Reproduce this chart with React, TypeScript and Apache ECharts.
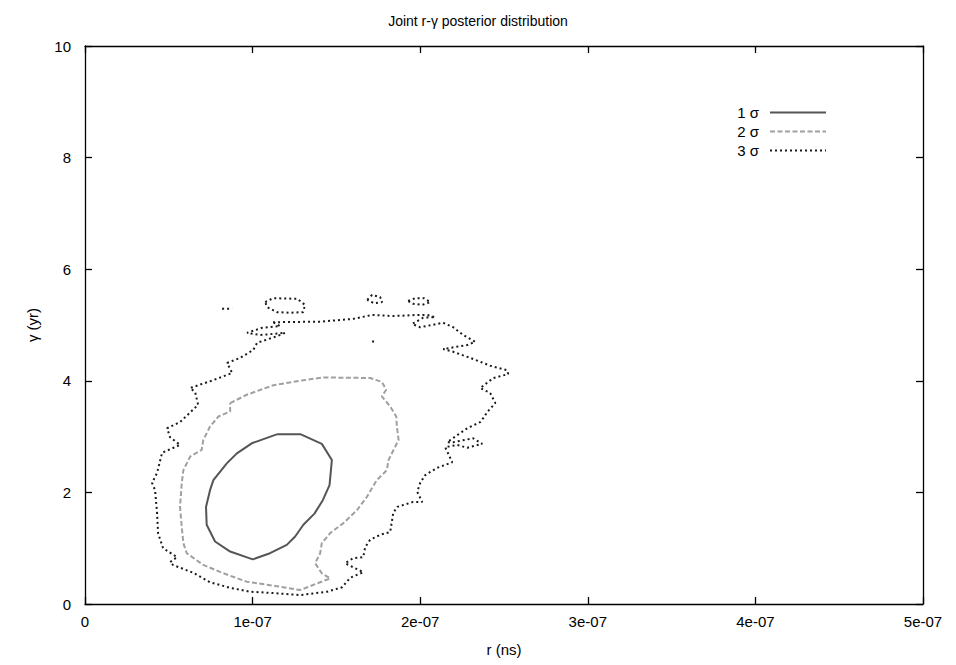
import React, { useEffect, useRef } from "react";
import * as echarts from "echarts";

// r values are in units of 1e-07 ns; gamma in years.
const xTicks = [0, 1, 2, 3, 4, 5];
const yTicks = [0, 2, 4, 6, 8, 10];

// 1-sigma contour
const sigma1R = [1.144, 1.288, 1.413, 1.473, 1.459, 1.419, 1.369, 1.303, 1.254, 1.204, 1.104, 1.001, 0.866, 0.776, 0.746, 0.726, 0.722, 0.746, 0.766, 0.846, 0.906, 0.995, 1.144];
const sigma1G = [3.04, 3.04, 2.87, 2.58, 2.13, 1.86, 1.62, 1.42, 1.21, 1.06, 0.91, 0.80, 0.94, 1.12, 1.30, 1.42, 1.74, 2.04, 2.22, 2.52, 2.70, 2.88, 3.04];

// 2-sigma contour
const sigma2R = [0.866, 0.965, 1.124, 1.303, 1.423, 1.701, 1.771, 1.797, 1.771, 1.821, 1.857, 1.861, 1.871, 1.841, 1.811, 1.801, 1.741, 1.711, 1.682, 1.622, 1.542, 1.463, 1.413, 1.403, 1.373, 1.413, 1.463, 1.284, 1.144, 0.965, 0.826, 0.706, 0.607, 0.587, 0.577, 0.567, 0.577, 0.587, 0.627, 0.696, 0.706, 0.746, 0.796, 0.866, 0.866];
const sigma2G = [3.60, 3.75, 3.92, 4.01, 4.06, 4.05, 3.98, 3.84, 3.72, 3.54, 3.36, 3.18, 2.94, 2.76, 2.58, 2.40, 2.22, 2.07, 1.92, 1.68, 1.45, 1.27, 1.09, 0.91, 0.73, 0.55, 0.46, 0.25, 0.32, 0.40, 0.55, 0.70, 0.91, 1.09, 1.39, 1.74, 2.16, 2.40, 2.64, 2.76, 2.94, 3.18, 3.36, 3.45, 3.60];

// 3-sigma contour: main outline
const sigma3R = [1.122, 1.403, 1.600, 1.713, 1.839, 1.982, 2.042, 2.090, 2.018, 1.952, 2.000, 2.137, 2.197, 2.257, 2.328, 2.281, 2.137, 2.197, 2.299, 2.418, 2.519, 2.525, 2.436, 2.358, 2.418, 2.448, 2.400, 2.376, 2.358, 2.281, 2.161, 2.197, 2.316, 2.370, 2.281, 2.221, 2.149, 2.191, 2.101, 2.030, 2.000, 1.982, 2.012, 1.958, 1.863, 1.839, 1.821, 1.761, 1.701, 1.672, 1.660, 1.600, 1.552, 1.660, 1.582, 1.534, 1.445, 1.284, 1.104, 0.985, 0.866, 0.746, 0.645, 0.525, 0.507, 0.549, 0.466, 0.436, 0.430, 0.418, 0.400, 0.430, 0.460, 0.567, 0.507, 0.490, 0.567, 0.675, 0.657, 0.627, 0.764, 0.878, 0.848, 0.925, 1.003, 1.027, 1.146, 1.194, 1.045, 0.967, 1.057, 1.164, 1.122];
const sigma3G = [5.05, 5.06, 5.11, 5.18, 5.16, 5.18, 5.18, 5.14, 5.13, 5.02, 4.96, 5.04, 4.96, 4.82, 4.70, 4.64, 4.57, 4.52, 4.41, 4.27, 4.19, 4.12, 4.05, 3.87, 3.78, 3.60, 3.44, 3.33, 3.26, 3.15, 2.90, 2.90, 2.97, 2.87, 2.80, 2.85, 2.81, 2.54, 2.44, 2.31, 2.17, 2.01, 1.83, 1.83, 1.74, 1.63, 1.29, 1.24, 1.15, 1.02, 0.84, 0.82, 0.73, 0.57, 0.47, 0.30, 0.22, 0.16, 0.20, 0.22, 0.29, 0.39, 0.56, 0.70, 0.75, 0.84, 1.00, 1.27, 1.63, 2.04, 2.17, 2.35, 2.71, 2.85, 2.99, 3.15, 3.26, 3.57, 3.80, 3.87, 4.01, 4.14, 4.32, 4.41, 4.55, 4.68, 4.80, 4.86, 4.82, 4.86, 4.95, 4.98, 5.05];

// 3-sigma contour: small islands above the main outline
const islandsR = [
  [1.075, 1.122, 1.266, 1.313, 1.301, 1.224, 1.146, 1.087, 1.075],
  [0.818, 0.878],
  [1.684, 1.713, 1.761, 1.773, 1.725, 1.684],
  [1.928, 1.970, 2.024, 2.060, 2.012, 1.958, 1.928],
  [1.713, 1.725],
];
const islandsG = [
  [5.41, 5.48, 5.47, 5.36, 5.23, 5.22, 5.23, 5.32, 5.41],
  [5.29, 5.29],
  [5.45, 5.54, 5.50, 5.41, 5.39, 5.45],
  [5.43, 5.48, 5.48, 5.41, 5.36, 5.38, 5.43],
  [4.71, 4.70],
];

const legendNames = ["1 σ", "2 σ", "3 σ"];

const pairs = (xs: number[], ys: number[]) => xs.map((x, i) => [x, ys[i]]);

const FONT = "'Liberation Sans', Arial, Helvetica, sans-serif";
const FONT_SIZE = 15;

const STYLE1 = { color: "#555555", width: 2, type: "solid" as any };
const STYLE2 = { color: "#a0a0a0", width: 2, type: [5, 2.5] as any };
const STYLE3 = { color: "#1a1a1a", width: 2, type: [2, 3] as any };

function contourSeries(name: string, data: number[][], style: any) {
  return {
    name,
    type: "line",
    data,
    xAxisIndex: 0,
    yAxisIndex: 0,
    showSymbol: false,
    symbol: "none",
    smooth: false,
    lineStyle: style,
    itemStyle: { color: style.color },
    emphasis: { disabled: true },
    silent: true,
  };
}

export default function App() {
  const ref = useRef<HTMLDivElement>(null);

  useEffect(() => {
    if (!ref.current) return;
    const chart = echarts.init(ref.current, undefined, { renderer: "svg" });

    const axisCommon = {
      type: "value" as const,
      axisLine: { show: true, onZero: false, lineStyle: { color: "#000", width: 1.3 } },
      axisTick: { show: true, inside: true, length: 7, lineStyle: { color: "#000", width: 1.3 } },
      splitLine: { show: false },
    };

    const xRange = { min: xTicks[0], max: xTicks[xTicks.length - 1], interval: 1 };
    const yRange = { min: yTicks[0], max: yTicks[yTicks.length - 1], interval: 2 };

    chart.setOption({
      animation: false,
      backgroundColor: "#fff",
      textStyle: { fontFamily: FONT },
      title: {
        text: "Joint r-γ posterior distribution",
        left: "center",
        top: 9,
        textStyle: { fontFamily: FONT, fontSize: 14, fontWeight: "normal", color: "#000" },
      },
      legend: {
        orient: "vertical",
        right: 124,
        top: 100,
        align: "right",
        itemWidth: 56,
        itemHeight: 14,
        itemGap: 4,
        selectedMode: false,
        data: legendNames,
        itemStyle: { opacity: 0, borderWidth: 0 },
        textStyle: { fontFamily: FONT, fontSize: FONT_SIZE, color: "#000", padding: [0, 6, 0, 0] },
      },
      grid: { left: 85, right: 33, top: 46, bottom: 61, containLabel: false },
      xAxis: [
        {
          ...axisCommon,
          ...xRange,
          position: "bottom",
          name: "r (ns)",
          nameLocation: "middle",
          nameGap: 38,
          nameTextStyle: { fontFamily: FONT, fontSize: FONT_SIZE, color: "#000" },
          axisLabel: {
            margin: 10,
            fontFamily: FONT,
            fontSize: FONT_SIZE,
            color: "#000",
            formatter: (v: number) => (v === 0 ? "0" : `${v}e-07`),
          },
        },
        { ...axisCommon, ...xRange, position: "top", axisLabel: { show: false } },
      ],
      yAxis: [
        {
          ...axisCommon,
          ...yRange,
          position: "left",
          name: "γ (yr)",
          nameLocation: "middle",
          nameGap: 45,
          nameTextStyle: { fontFamily: FONT, fontSize: FONT_SIZE, color: "#000" },
          axisLabel: { margin: 14, fontFamily: FONT, fontSize: FONT_SIZE, color: "#000" },
        },
        { ...axisCommon, ...yRange, position: "right", axisLabel: { show: false } },
      ],
      series: [
        contourSeries(legendNames[0], pairs(sigma1R, sigma1G), STYLE1),
        contourSeries(legendNames[1], pairs(sigma2R, sigma2G), STYLE2),
        contourSeries(legendNames[2], pairs(sigma3R, sigma3G), STYLE3),
        ...islandsR.map((rs, i) => contourSeries(legendNames[2], pairs(rs, islandsG[i]), STYLE3)),
      ],
    });

    return () => chart.dispose();
  }, []);

  return (
    <div
      ref={ref}
      style={{ position: "fixed", left: 0, top: 0, width: 956, height: 665 }}
    />
  );
}
